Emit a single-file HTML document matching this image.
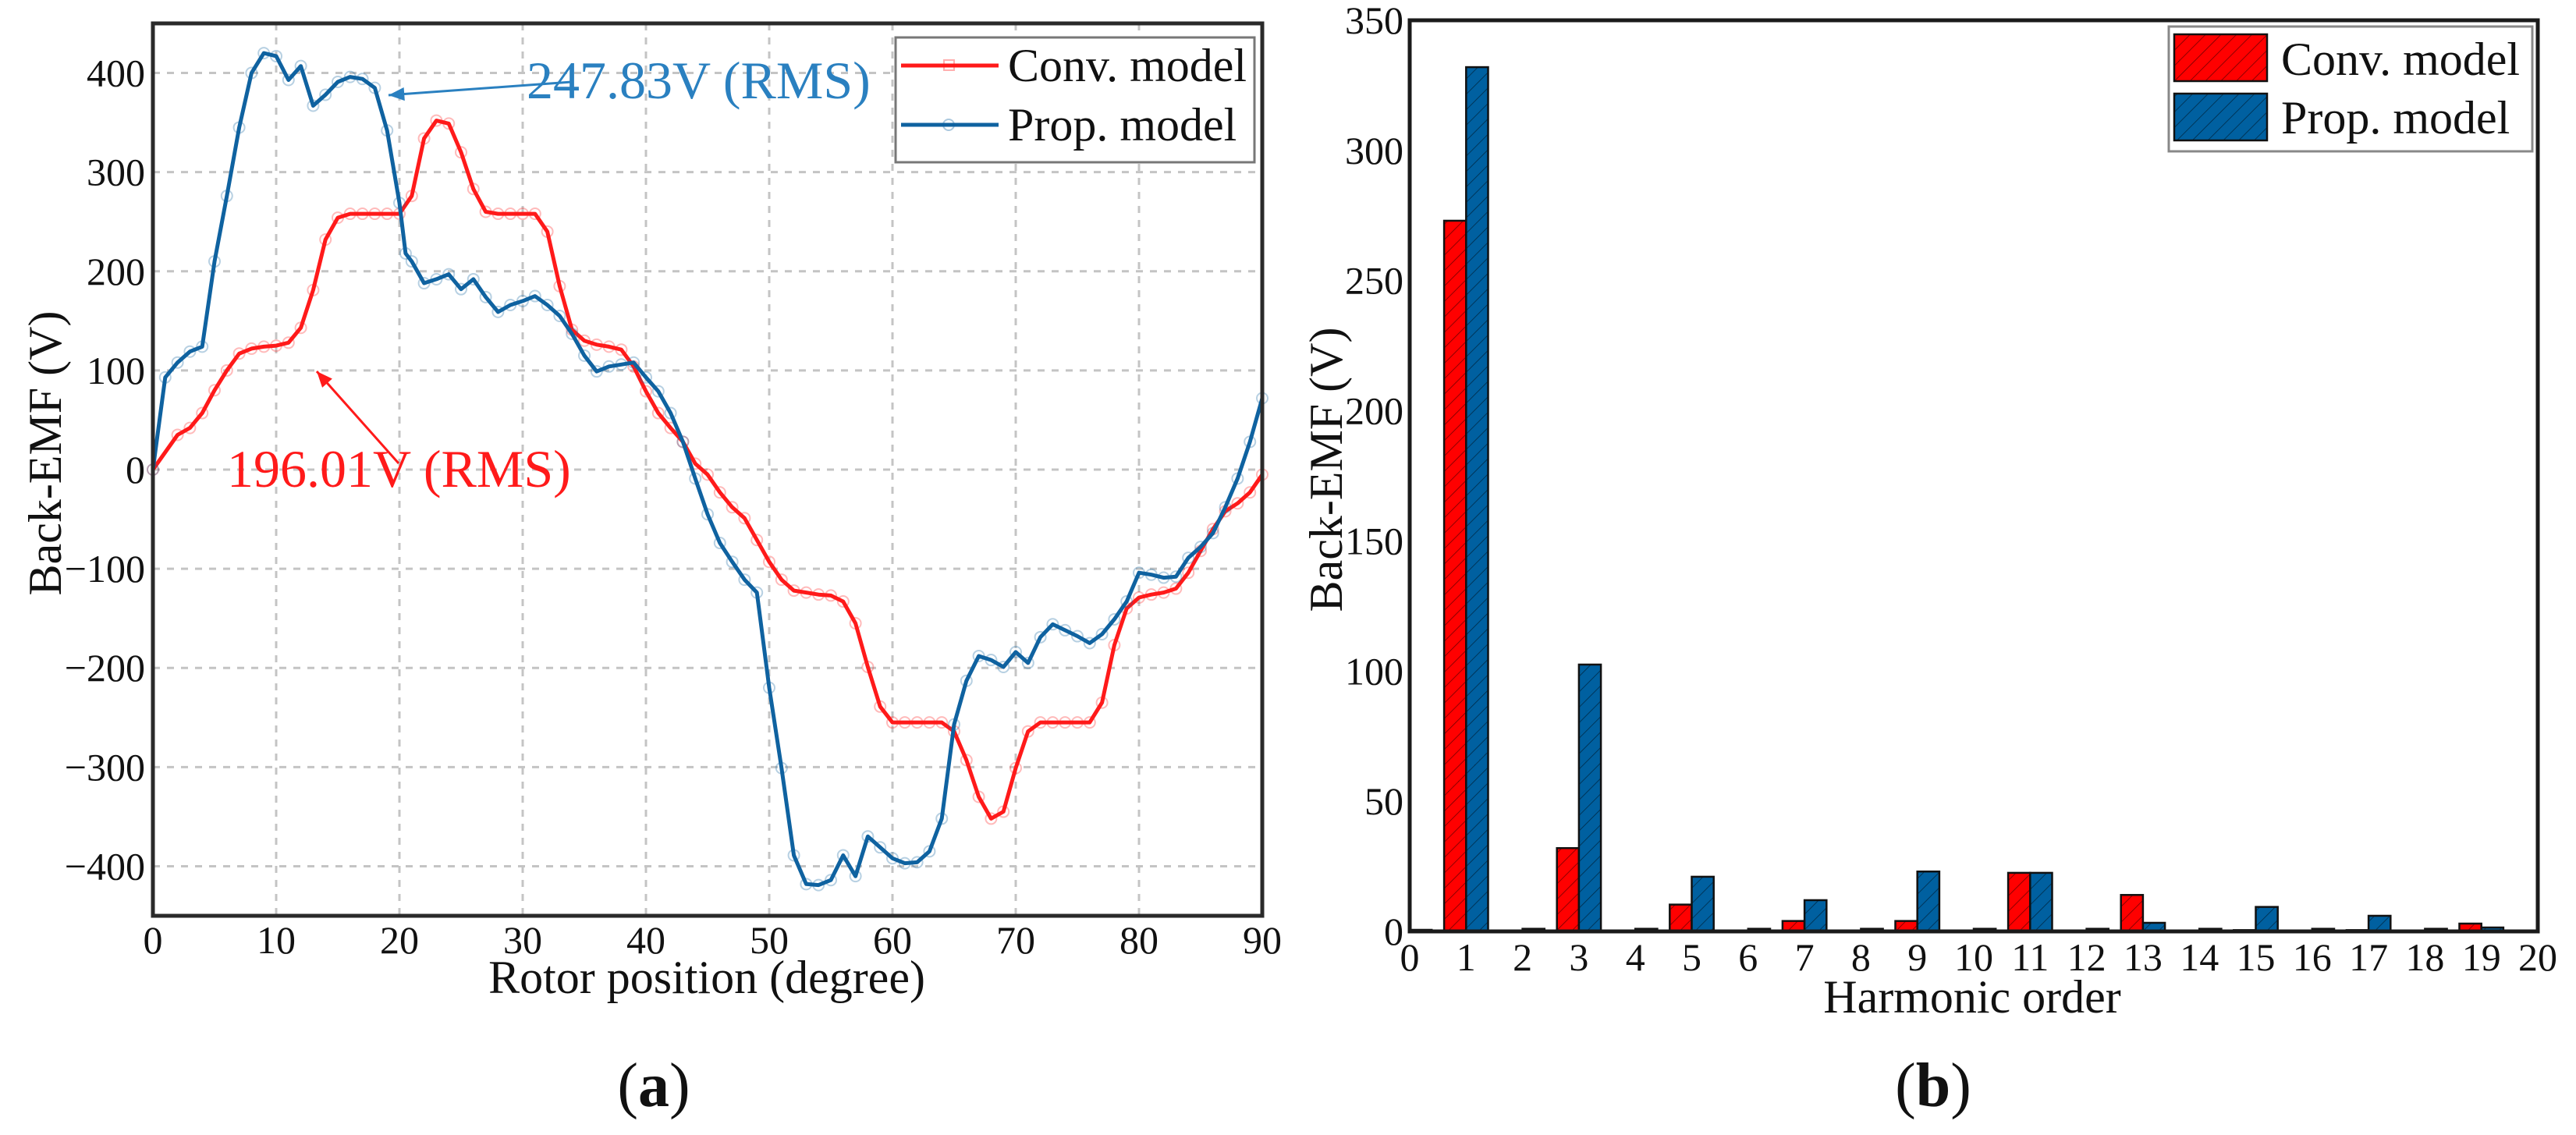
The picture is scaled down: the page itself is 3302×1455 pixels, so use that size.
<!DOCTYPE html>
<html><head><meta charset="utf-8">
<style>
html,body{margin:0;padding:0;background:#fff;}
svg{display:block;}
svg text{font-family:"Liberation Serif","Times New Roman",serif;}
</style></head>
<body>
<svg id="fig" width="3302" height="1455" viewBox="0 0 3302 1455" xmlns="http://www.w3.org/2000/svg" font-family="Liberation Serif, Times New Roman, serif">
<defs>
<pattern id="hatch" patternUnits="userSpaceOnUse" width="14" height="14" patternTransform="rotate(45)">
<line x1="0" y1="0" x2="0" y2="14" stroke="#000" stroke-width="1.6" stroke-opacity="0.55"/>
</pattern>
</defs>
</svg>
<script>
// ---- Chart (a) data ----
const convX = [0,2,3,4,5,6,7,8,9,10,11,12,13,14,15,16,17,18,19,20,21,22,23,24,25,26,27,28,29,30,31,32,33,34,35,36,37,38,39,40,41,42,43,44,45,46,47,48,49,50,51,52,53,54,55,56,57,58,59,60,61,62,63,64,65,66,67,68,69,70,71,72,73,74,75,76,77,78,79,80,81,82,83,84,85,86,87,88,89,90];
const convY = [0,35,42,57,80,100,117,122,124,125,128,143,181,232,254,258,258,258,258,258,276,334,352,349,320,283,260,258,258,258,258,240,185,141,130,126,124,121,104,79,57,42,28,6,-5,-23,-38,-49,-71,-93,-111,-122,-124,-126,-127,-133,-155,-199,-239,-255,-255,-255,-255,-255,-264,-293,-330,-352,-345,-301,-264,-255,-255,-255,-255,-255,-235,-177,-140,-129,-126,-124,-120,-104,-82,-60,-42,-34,-23,-5];
const propX = [0,1,2,3,4,5,6,7,8,9,10,11,12,13,14,15,16,17,18,19,20,20.5,21,22,23,24,25,26,27,28,29,30,31,32,33,34,35,36,37,38,39,40,41,42,43,44,45,46,47,48,49,50,51,52,53,54,55,56,57,58,59,60,61,62,63,64,65,66,67,68,69,70,71,72,73,74,75,76,77,78,79,80,81,82,83,84,85,86,87,88,89,90];
const propY = [0,93,108,119,124,210,276,345,400,420,417,393,407,367,378,391,396,394,385,342,269,218,210,188,192,197,182,192,174,159,166,170,175,166,155,137,115,99,104,106,108,93,79,57,28,-9,-45,-74,-93,-111,-124,-220,-301,-389,-418,-419,-414,-389,-410,-370,-381,-392,-397,-396,-385,-352,-257,-213,-188,-192,-199,-184,-195,-169,-156,-162,-168,-175,-166,-151,-133,-104,-106,-109,-108,-89,-78,-64,-38,-9,28,72];
const aXTicks = [0,10,20,30,40,50,60,70,80,90];
const aYTicks = [-400,-300,-200,-100,0,100,200,300,400];
// ---- Chart (b) data ----
const harmonics = [0,1,2,3,4,5,6,7,8,9,10,11,12,13,14,15,16,17,18,19];
const convBars = [0,273,0,32,0,10.3,0,4,0,4,0,22.5,0,14,0,0.5,0,0.5,0,3];
const propBars = [0.6,332,1,102.5,1,21,1,12,1,23,1,22.5,1,3.3,1,9.4,1,6,1,1.5];
const bXTicks = [0,1,2,3,4,5,6,7,8,9,10,11,12,13,14,15,16,17,18,19,20];
const bYTicks = [0,50,100,150,200,250,300,350];

const NS='http://www.w3.org/2000/svg';
const svg=document.getElementById('fig');
function mk(tag,attrs,parent){const e=document.createElementNS(NS,tag);for(const k in attrs)e.setAttribute(k,attrs[k]);(parent||svg).appendChild(e);return e;}
function txt(s,attrs,parent){const e=mk('text',attrs,parent);e.textContent=s;return e;}

// ===== Chart (a) =====
const A={l:196,r:1618,t:30,b:1174,x0:0,x1:90,y0:-450,y1:450};
const ax=v=>A.l+(v-A.x0)/(A.x1-A.x0)*(A.r-A.l);
const ay=v=>A.b-(v-A.y0)/(A.y1-A.y0)*(A.b-A.t);
const gA=mk('g',{});


aXTicks.forEach(v=>{
  const l=mk('line',{x1:ax(v),x2:ax(v),y1:A.t,y2:A.b,stroke:'#c4c4c4','stroke-width':3,'stroke-dasharray':'9 9'},gA);
  
  
  const t=txt(String(v),{x:ax(v),y:1222,'text-anchor':'middle','font-size':50,fill:'#111'},gA);
  
  
});
aYTicks.forEach(v=>{
  const l=mk('line',{x1:A.l,x2:A.r,y1:ay(v),y2:ay(v),stroke:'#c4c4c4','stroke-width':3,'stroke-dasharray':'9 9'},gA);
  
  
  const t=txt(v<0?'\u2212'+(-v):String(v),{x:186,y:ay(v)+17,'text-anchor':'end','font-size':50,fill:'#111'},gA);
  
  
});
function series(xs,ys,color,name){
  const d=xs.map((x,i)=>(i?'L':'M')+ax(x).toFixed(1)+' '+ay(ys[i]).toFixed(1)).join(' ');
  const g=mk('g',{},gA);
  
  
  xs.forEach((x,i)=>{
    const c=mk('circle',{cx:ax(x),cy:ay(ys[i]),r:7,fill:'none',stroke:color,'stroke-width':2,'stroke-opacity':0.3},g);
    
    
  });
  const p=mk('path',{d:d,fill:'none',stroke:color,'stroke-width':5,'stroke-linejoin':'round'},g);
  
  
}
series(convX,convY,'#ff1a1a','conv-model-series');
series(propX,propY,'#0f62a0','prop-model-series');
const frA=mk('rect',{x:A.l,y:A.t,width:A.r-A.l,height:A.b-A.t,fill:'none',stroke:'#2a2a2a','stroke-width':5},gA);


let t;
t=txt('247.83V (RMS)',{x:675,y:126,'font-size':68,fill:'#2a80c0'},gA);


t=txt('196.01V (RMS)',{x:291,y:624,'font-size':68,fill:'#ff1a1a'},gA);


function arrow(x1,y1,x2,y2,c,name){
  const g=mk('g',{},gA);
  
  
  mk('line',{x1:x1,y1:y1,x2:x2,y2:y2,stroke:c,'stroke-width':3},g);
  const a=Math.atan2(y2-y1,x2-x1),L=22,w=0.4;
  mk('polygon',{points:`${x2},${y2} ${x2-L*Math.cos(a-w)},${y2-L*Math.sin(a-w)} ${x2-L*Math.cos(a+w)},${y2-L*Math.sin(a+w)}`,fill:c},g);
}
arrow(733,105,498,122,'#2a80c0','prop-rms-arrow');
arrow(511,594,406,476,'#ff1a1a','conv-rms-arrow');
const lgA=mk('g',{},gA);


mk('rect',{x:1148,y:48,width:460,height:160,fill:'#fff',stroke:'#777','stroke-width':3},lgA);
mk('line',{x1:1155,x2:1280,y1:84,y2:84,stroke:'#ff1a1a','stroke-width':5},lgA);
mk('rect',{x:1210,y:77,width:13,height:13,fill:'none',stroke:'#ff1a1a','stroke-opacity':0.35,'stroke-width':2},lgA);
mk('line',{x1:1155,x2:1280,y1:160,y2:160,stroke:'#0f62a0','stroke-width':5},lgA);
mk('circle',{cx:1216,cy:160,r:7,fill:'none',stroke:'#0f62a0','stroke-opacity':0.35,'stroke-width':2},lgA);
t=txt('Conv. model',{x:1292,y:104,'font-size':60,fill:'#111'},lgA);


t=txt('Prop. model',{x:1292,y:180,'font-size':60,fill:'#111'},lgA);


t=txt('Rotor position (degree)',{x:906,y:1273,'text-anchor':'middle','font-size':60,fill:'#111'},gA);


t=txt('Back-EMF (V)',{x:0,y:0,'text-anchor':'middle','font-size':60,fill:'#111',transform:'translate(78,581) rotate(-90)'},gA);


t=mk('text',{x:838,y:1418,'text-anchor':'middle','font-size':80,fill:'#111'},gA);
t.innerHTML='(<tspan font-weight="bold">a</tspan>)';



// ===== Chart (b) =====
const B={l:1807,r:3253,t:26,b:1194,x0:0,x1:20,y0:0,y1:350};
const bx=v=>B.l+(v-B.x0)/(B.x1-B.x0)*(B.r-B.l);
const by=v=>B.b-(v-B.y0)/(B.y1-B.y0)*(B.b-B.t);
const gB=mk('g',{});


const bw=0.39;
harmonics.forEach((h,i)=>{
  [[convBars[i],h-bw,'#ff0000','bar-conv-h'+h],[propBars[i],h,'#0060a0','bar-prop-h'+h]].forEach(([v,x0,c,n])=>{
    if(v<=0)return;
    const g=mk('g',{},gB);
    
    
    const x=bx(x0),w=bx(x0+bw)-bx(x0),y=by(v),hh=B.b-by(v);
    mk('rect',{x:x,y:y,width:w,height:hh,fill:c},g);
    mk('rect',{x:x,y:y,width:w,height:hh,fill:'url(#hatch)',stroke:'#111','stroke-width':2.5},g);
  });
});
bXTicks.forEach(v=>{
  const tt=txt(String(v),{x:bx(v),y:1244,'text-anchor':'middle','font-size':50,fill:'#111'},gB);
  
  
});
bYTicks.forEach(v=>{
  const tt=txt(String(v),{x:1799,y:by(v)+17,'text-anchor':'end','font-size':50,fill:'#111'},gB);
  
  
});
const frB=mk('rect',{x:B.l,y:B.t,width:B.r-B.l,height:B.b-B.t,fill:'none',stroke:'#1a1a1a','stroke-width':5},gB);


const lgB=mk('g',{},gB);


mk('rect',{x:2780,y:34,width:466,height:160,fill:'#fff',stroke:'#888','stroke-width':3},lgB);
mk('rect',{x:2787,y:44,width:119,height:60,fill:'#ff0000'},lgB);
mk('rect',{x:2787,y:44,width:119,height:60,fill:'url(#hatch)',stroke:'#111','stroke-width':2.5},lgB);
mk('rect',{x:2787,y:120,width:119,height:60,fill:'#0060a0'},lgB);
mk('rect',{x:2787,y:120,width:119,height:60,fill:'url(#hatch)',stroke:'#111','stroke-width':2.5},lgB);
t=txt('Conv. model',{x:2924,y:96,'font-size':60,fill:'#111'},lgB);


t=txt('Prop. model',{x:2924,y:171,'font-size':60,fill:'#111'},lgB);


t=txt('Harmonic order',{x:2528,y:1298,'text-anchor':'middle','font-size':60,fill:'#111'},gB);


t=txt('Back-EMF (V)',{x:0,y:0,'text-anchor':'middle','font-size':60,fill:'#111',transform:'translate(1720,602) rotate(-90)'},gB);


t=mk('text',{x:2478,y:1418,'text-anchor':'middle','font-size':80,fill:'#111'},gB);
t.innerHTML='(<tspan font-weight="bold">b</tspan>)';


</script>
</body></html>
